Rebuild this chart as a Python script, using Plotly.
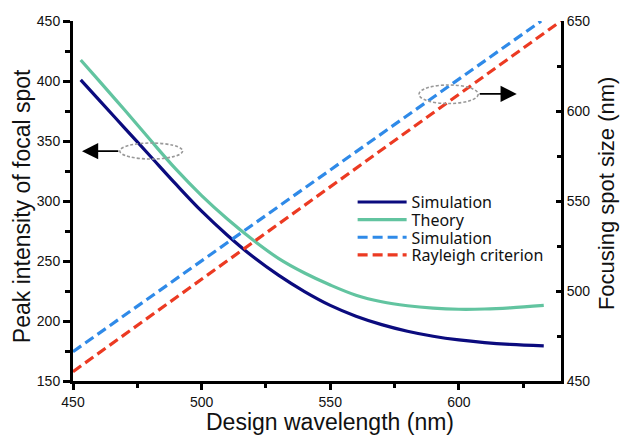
import plotly.graph_objects as go

# ---- data ----
wl_peak = [453, 460, 470, 480, 490, 500, 510, 520, 530, 540, 550, 560, 570, 580, 590, 600, 610, 620, 633]
peak_simulation = [401, 384.5, 361, 337.5, 314, 291.5, 271.5, 253.5, 238, 224.5, 213, 204, 197, 191.5, 187.3, 184.2, 182, 180.5, 179.3]
peak_theory = [417.5, 400.5, 376, 351, 326.5, 304.5, 285, 267.5, 252, 240, 230, 221.5, 216, 212.7, 210.7, 209.8, 210, 211, 213]

wl_size_sim = [450, 500, 550, 600, 632]
size_simulation = [466.3, 516.8, 567.3, 617.8, 650]
wl_size_ray = [450, 500, 550, 600, 639.7]
size_rayleigh = [455.2, 506.6, 558, 609.4, 650]

names = ["Simulation", "Theory", "Simulation", "Rayleigh criterion"]
colors = ["#0b0b7e", "#62c4a0", "#2f8ae8", "#ec3a22"]
titles = ["Design wavelength (nm)", "Peak intensity of focal spot", "Focusing spot size (nm)"]

TICKF = dict(family="Liberation Sans, Arial", size=14, color="#111")
TITLEF = dict(family="Liberation Sans, Arial", size=23, color="#111")
LEGF = dict(family="Noto Sans", size=16, color="#111")

fig = go.Figure()
fig.add_trace(go.Scatter(x=wl_peak, y=peak_simulation, name=names[0], mode="lines", legend="legend",
                         line=dict(color=colors[0], width=3.2, shape="spline"), xaxis="x", yaxis="y"))
fig.add_trace(go.Scatter(x=wl_peak, y=peak_theory, name=names[1], mode="lines", legend="legend2",
                         line=dict(color=colors[1], width=3.2, shape="spline"), xaxis="x", yaxis="y"))
fig.add_trace(go.Scatter(x=wl_size_sim, y=size_simulation, name=names[2], mode="lines", legend="legend3",
                         line=dict(color=colors[2], width=3.2, dash="10px,5px"), xaxis="x", yaxis="y2"))
fig.add_trace(go.Scatter(x=wl_size_ray, y=size_rayleigh, name=names[3], mode="lines", legend="legend4",
                         line=dict(color=colors[3], width=3.2, dash="10px,5px"), xaxis="x", yaxis="y2"))

axis_common = dict(showgrid=False, zeroline=False, showline=True, linecolor="black", linewidth=3,
                   tickcolor="black", tickwidth=2.5, tickfont=TICKF)

def leg(yc):
    return dict(x=0.573, y=yc, xanchor="left", yanchor="middle", bgcolor="rgba(0,0,0,0)",
                font=LEGF, itemwidth=49, borderwidth=0)

fig.update_layout(
    width=624, height=437,
    margin=dict(l=73, r=63, t=21, b=56),
    plot_bgcolor="white", paper_bgcolor="white",
    xaxis=dict(range=[450, 639.7], tick0=450, dtick=50, ticks="outside", ticklen=6,
               minor=dict(dtick=25, ticks="outside", ticklen=4, tickwidth=2.5, tickcolor="black"),
               **axis_common),
    xaxis2=dict(overlaying="x", side="top", anchor="y", range=[0, 10], dtick=1, ticks="inside", ticklen=5,
                showticklabels=False, **axis_common),
    yaxis=dict(range=[150, 450], dtick=50, ticks="outside", ticklen=7,
               minor=dict(dtick=25, ticks="outside", ticklen=5, tickwidth=2.5, tickcolor="black"),
               **axis_common),
    yaxis2=dict(overlaying="y", side="right", anchor="x", range=[450, 650], dtick=50, ticks="inside", ticklen=5,
                minor=dict(dtick=25, ticks="inside", ticklen=4, tickwidth=2.5, tickcolor="black"),
                **axis_common),
    legend=leg(0.497), legend2=leg(0.448), legend3=leg(0.399), legend4=leg(0.35),
    showlegend=True,
)

# axis titles
fig.add_annotation(text=titles[0], xref="paper", yref="paper", x=0.527, y=0, yshift=-41,
                   xanchor="center", yanchor="middle", showarrow=False, font=TITLEF)
fig.add_annotation(text=titles[1], xref="paper", yref="paper", x=0, y=0.519, xshift=-51, yshift=-12,
                   xanchor="center", yanchor="middle", showarrow=False, textangle=-90, font=TITLEF)
fig.add_annotation(text=titles[2], xref="paper", yref="paper", x=1, y=0.558, xshift=45, yshift=-13,
                   xanchor="center", yanchor="middle", showarrow=False, textangle=-90,
                   font=dict(family="Liberation Sans, Arial", size=22, color="#111"))

# decorative dashed ellipses and arrows (in axis units of left axis)
fig.add_shape(type="circle", xref="x", yref="y", x0=468.2, x1=492.6, y0=335, y1=348.3,
              line=dict(color="#999", width=1.6, dash="3px,2px"))
fig.add_shape(type="circle", xref="x", yref="y", x0=584.5, x1=607.5, y0=381.2, y1=396.7,
              line=dict(color="#999", width=1.6, dash="3px,2px"))
fig.add_annotation(x=453.5, y=341.5, ax=468.2, ay=341.5, xref="x", yref="y", axref="x", ayref="y",
                   text="", showarrow=True, arrowhead=2, arrowsize=1.8, arrowwidth=1.8, arrowcolor="black")
fig.add_annotation(x=622.5, y=389.2, ax=607.5, ay=389.2, xref="x", yref="y", axref="x", ayref="y",
                   text="", showarrow=True, arrowhead=2, arrowsize=1.8, arrowwidth=1.8, arrowcolor="black")

fig.write_html("out.html")
